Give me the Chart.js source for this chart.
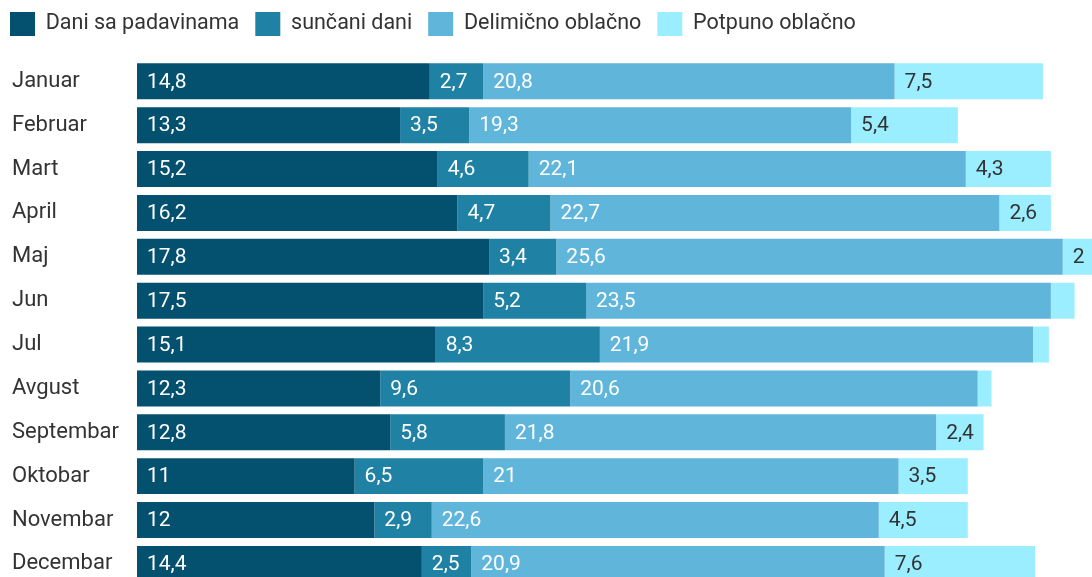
<!DOCTYPE html>
<html>
<head>
<meta charset="utf-8">
<script src="https://cdn.jsdelivr.net/npm/chart.js@4/dist/chart.umd.min.js"></script>
<style>
html,body{margin:0;padding:0;background:#fff;overflow:hidden}
#wrap{position:relative;width:1092px;height:599px}
</style>
</head>
<body>
<div id="wrap"><canvas id="grafico"></canvas></div>
<script>

/* PODACI */

const meseci=["Januar","Februar","Mart","April","Maj","Jun","Jul","Avgust","Septembar","Oktobar","Novembar","Decembar"]

const padavine=[14.8,13.3,15.2,16.2,17.8,17.5,15.1,12.3,12.8,11,12,14.4]
const suncani=[2.7,3.5,4.6,4.7,3.4,5.2,8.3,9.6,5.8,6.5,2.9,2.5]
const delimicno=[20.8,19.3,22.1,22.7,25.6,23.5,21.9,20.6,21.8,21,22.6,20.9]
const potpuno=[7.5,5.4,4.3,2.6,2,1.2,0.8,0.7,2.4,3.5,4.5,7.6]

const nazivi=["Dani sa padavinama","sunčani dani","Delimično oblačno","Potpuno oblačno"]
const boje=["#03506f","#1f81a3","#60b5da","#9beeff"]
const bojeTeksta=["#ffffff","#ffffff","#ffffff","#333333"]

Chart.defaults.font.family="Roboto"
Chart.defaults.font.size=22
Chart.defaults.color="#333333"

/* LEGENDA - VISINA */

const legendaVisina={
id:"legendaVisina",
beforeInit(chart){
const fit=chart.legend.fit
chart.legend.fit=function(){
fit.bind(chart.legend)()
this.height=63.4
}
},
afterLayout(chart){
/* nazivi meseci poravnati levo na x=12 */
chart.scales.y.left=12
}
}

/* OZNAKE VREDNOSTI */

const oznake={
id:"oznake",
afterDatasetsDraw(chart){
const c=chart.ctx
c.save()
c.font="21px Roboto"
c.textBaseline="middle"
c.textAlign="left"
chart.data.datasets.forEach((ds,i)=>{
const meta=chart.getDatasetMeta(i)
meta.data.forEach((el,j)=>{
const txt=String(ds.data[j]).replace(".",",")
const sirina=Math.abs(el.x-el.base)
if(c.measureText(txt).width+18>sirina) return
c.fillStyle=bojeTeksta[i]
c.fillText(txt,Math.min(el.x,el.base)+10,el.y+1)
})
})
c.restore()
}
}

const serije=[padavine,suncani,delimicno,potpuno]

new Chart(document.getElementById("grafico"),{
type:"bar",
data:{
labels:meseci,
datasets:serije.map((d,i)=>({
label:nazivi[i],
data:d,
backgroundColor:boje[i],
borderWidth:0,
categoryPercentage:1,
barPercentage:0.82
}))
},
options:{
indexAxis:"y",
responsive:true,
maintainAspectRatio:false,
animation:false,
layout:{padding:{left:-6,right:0,top:-4,bottom:0}},
plugins:{
legend:{
align:"start",
labels:{boxWidth:25,boxHeight:24,padding:16,color:"#333333",font:{size:21.5}}
},
tooltip:{enabled:false}
},
scales:{
x:{stacked:true,display:false,min:0,max:48.28},
y:{
stacked:true,
grid:{display:false,drawTicks:false},
border:{display:false},
ticks:{crossAlign:"far",padding:0,color:"#333333",font:{size:22}},
afterFit(scale){scale.width=143}
}
}
},
plugins:[legendaVisina,oznake]
})

</script>
</body>
</html>
